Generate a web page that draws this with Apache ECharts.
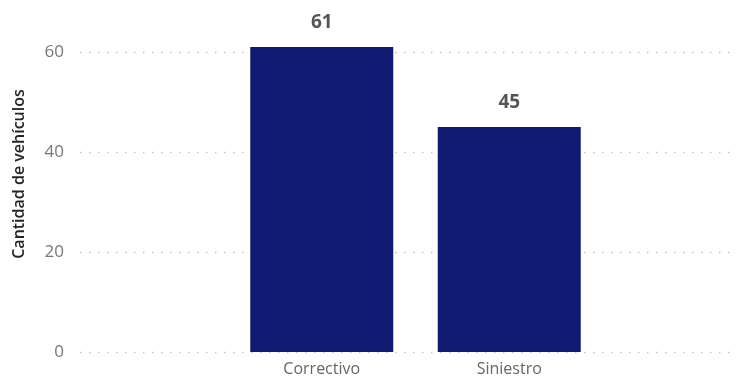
<!DOCTYPE html>
<html>
<head>
<meta charset="utf-8">
<script src="https://cdn.jsdelivr.net/npm/echarts@6/dist/echarts.min.js"></script>
<style>html,body{margin:0;padding:0;background:#fff}#c{width:742px;height:378px}</style>
</head>
<body>
<div id="c"></div>
<script>
var categories = ['Correctivo', 'Siniestro'];
var values = [61, 45];
var yAxisTitle = 'Cantidad de vehículos';

var chart = echarts.init(document.getElementById('c'));
var font = '"Open Sans", "Noto Sans", sans-serif';
chart.setOption({
  animation: false,
  grid: [
    {left: 80, right: 6, top: 27, bottom: 26},
    {left: 228, width: 375, top: 27, bottom: 26}
  ],
  xAxis: [
    {gridIndex: 0, type: 'value', show: false, min: 0, max: 1},
    {gridIndex: 1, type: 'category', data: categories,
     axisLine: {show: false}, axisTick: {show: false},
     axisLabel: {color: '#666', fontSize: 16, fontFamily: font, margin: 9}}
  ],
  yAxis: [
    {gridIndex: 0, type: 'value', min: 0, max: 65, interval: 20,
     axisLine: {show: false}, axisTick: {show: false},
     axisLabel: {color: '#777', fontSize: 17, fontFamily: font, margin: 16, showMaxLabel: false},
     splitLine: {show: true, showMaxLine: false, lineStyle: {color: '#c4c4c4', width: 1.3, type: [1.5, 7.5]}}},
    {gridIndex: 1, type: 'value', min: 0, max: 65, interval: 20, show: false, splitLine: {show: false}}
  ],
  graphic: [{
    type: 'text', x: 19, y: 174, rotation: Math.PI / 2,
    style: {text: yAxisTitle, fill: '#252525', font: '600 16px ' + font, align: 'center', verticalAlign: 'middle'}
  }],
  series: [{
    type: 'bar', xAxisIndex: 1, yAxisIndex: 1, data: values, barWidth: 143,
    itemStyle: {color: '#111A73'},
    label: {show: true, position: 'top', distance: 15, color: '#555', fontSize: 19, fontWeight: 'bold', fontFamily: font}
  }]
});
</script>
</body>
</html>
